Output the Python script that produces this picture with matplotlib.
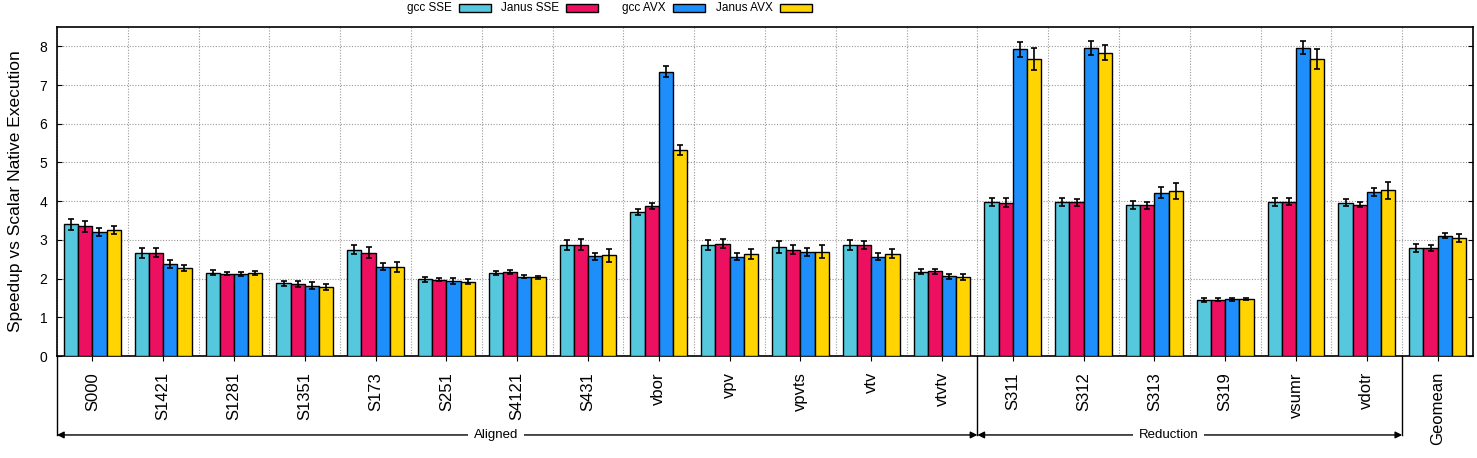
import numpy as np
import matplotlib
matplotlib.use("Agg")
import matplotlib.pyplot as plt
from matplotlib import font_manager
from matplotlib.patches import Rectangle
from matplotlib.transforms import blended_transform_factory

plt.rcParams['font.family'] = ['Liberation Sans', 'DejaVu Sans']

# horizontal text in the reference looks condensed; use the narrow face if present
installed = {f.name for f in font_manager.fontManager.ttflist}
if 'Liberation Sans Narrow' in installed:
    hfont, hsize = ['Liberation Sans Narrow', 'DejaVu Sans'], 10
else:
    hfont, hsize = ['Liberation Sans', 'DejaVu Sans'], 8.5

benchmarks = ["S000", "S1421", "S1281", "S1351", "S173", "S251", "S4121", "S431",
              "vbor", "vpv", "vpvts", "vtv", "vtvtv",
              "S311", "S312", "S313", "S319", "vsumr", "vdotr", "Geomean"]

gcc_sse = [3.40, 2.65, 2.15, 1.88, 2.75, 1.98, 2.15, 2.87, 3.72, 2.87, 2.82, 2.87, 2.18,
           3.98, 3.98, 3.91, 1.44, 3.98, 3.96, 2.79]
janus_sse = [3.35, 2.67, 2.13, 1.87, 2.67, 1.97, 2.17, 2.88, 3.87, 2.90, 2.75, 2.87, 2.19,
             3.96, 3.97, 3.90, 1.45, 3.98, 3.91, 2.79]
gcc_avx = [3.20, 2.38, 2.12, 1.82, 2.30, 1.94, 2.05, 2.58, 7.35, 2.57, 2.69, 2.57, 2.06,
           7.92, 7.95, 4.22, 1.47, 7.97, 4.24, 3.11]
janus_avx = [3.25, 2.27, 2.14, 1.78, 2.30, 1.92, 2.03, 2.60, 5.32, 2.64, 2.69, 2.64, 2.05,
             7.67, 7.84, 4.26, 1.47, 7.68, 4.28, 3.05]

err_gcc_sse = [0.14, 0.13, 0.06, 0.07, 0.12, 0.06, 0.05, 0.13, 0.09, 0.12, 0.15, 0.13, 0.07,
               0.11, 0.10, 0.10, 0.05, 0.10, 0.09, 0.10]
err_janus_sse = [0.15, 0.11, 0.05, 0.08, 0.15, 0.04, 0.06, 0.14, 0.08, 0.11, 0.11, 0.10, 0.07,
                 0.11, 0.09, 0.09, 0.04, 0.09, 0.07, 0.09]
err_gcc_avx = [0.10, 0.11, 0.06, 0.08, 0.09, 0.07, 0.03, 0.09, 0.15, 0.08, 0.10, 0.08, 0.07,
               0.20, 0.18, 0.14, 0.04, 0.17, 0.10, 0.07]
err_janus_avx = [0.10, 0.08, 0.05, 0.07, 0.13, 0.06, 0.03, 0.16, 0.12, 0.13, 0.17, 0.12, 0.08,
                 0.28, 0.20, 0.20, 0.03, 0.26, 0.22, 0.10]

series = [("gcc SSE", gcc_sse, err_gcc_sse, "#55C8DE"),
          ("Janus SSE", janus_sse, err_janus_sse, "#EE1060"),
          ("gcc AVX", gcc_avx, err_gcc_avx, "#1E8EFA"),
          ("Janus AVX", janus_avx, err_janus_avx, "#FFD400")]

W, H = 1477, 458
fig = plt.figure(figsize=(W / 100, H / 100), dpi=100)
ax = fig.add_axes([57 / W, 102 / H, 1416 / W, 329 / H])

x = np.arange(len(benchmarks))
width = 0.2
for i, (name, vals, errs, col) in enumerate(series):
    ax.bar(x + (i - 1.5) * width, vals, width, color=col, edgecolor="black",
           linewidth=1.0, label=name, zorder=3,
           yerr=errs, error_kw=dict(ecolor="black", elinewidth=1.2, capsize=2.5,
                                    capthick=1.2, zorder=4))

ax.set_xlim(-0.5, len(benchmarks) - 0.5)
ax.set_ylim(0, 8.5)
ax.set_yticks(range(0, 9))
ax.set_yticklabels([str(v) for v in range(0, 9)], family=hfont, fontsize=hsize + 1.5)
ax.set_xticks(x)
ax.set_xticklabels(benchmarks, rotation=90, fontsize=12)
ax.set_xticks(np.arange(-0.5, len(benchmarks), 1.0), minor=True)
ax.tick_params(axis="x", which="minor", length=0)
ax.tick_params(axis="x", which="major", direction="out", length=3.6, pad=8)
ax.tick_params(axis="y", direction="in", right=True, length=3.5, pad=7)
ax.grid(axis="y", which="major", linestyle=(0, (1, 1.5)), color="#999999", linewidth=0.8, zorder=0)
ax.grid(axis="x", which="minor", linestyle=(0, (1, 1.5)), color="#999999", linewidth=0.8, zorder=0)
for s in ax.spines.values():
    s.set_linewidth(1.2)
ax.set_ylabel("Speedup vs Scalar Native Execution", fontsize=12.5, labelpad=12)

# group brackets under the axis
trans = blended_transform_factory(ax.transData, ax.transAxes)
arrow_y = -0.24
for xs in [-0.5, 12.5, 18.5]:
    ax.plot([xs, xs], [0, arrow_y], transform=trans, color="black",
            linewidth=1.0, clip_on=False)
groups = [("Aligned", -0.5, 12.5, 5.7), ("Reduction", 12.5, 18.5, 15.2)]
for label, x0, x1, xt in groups:
    ax.annotate("", xy=(x0, arrow_y), xytext=(x1, arrow_y), xycoords=trans,
                textcoords=trans,
                arrowprops=dict(arrowstyle="<|-|>", color="black", linewidth=1.0,
                                shrinkA=0, shrinkB=0, mutation_scale=10))
    ax.text(xt, arrow_y, label, transform=trans, ha="center", va="center",
            family=hfont, fontsize=hsize + 1,
            bbox=dict(facecolor="white", edgecolor="none", pad=4))

# legend: text right-aligned before each swatch, gnuplot style
for i, (name, vals, errs, col) in enumerate(series):
    sx = 459 + 107 * i
    fig.patches.append(Rectangle((sx / W, 1 - 12 / H), 32 / W, 8 / H,
                                 transform=fig.transFigure, facecolor=col,
                                 edgecolor="black", linewidth=1.0))
    fig.text((sx - 7) / W, 1 - 8 / H, name, ha="right", va="center",
             family=hfont, fontsize=hsize)

fig.savefig("out.png", dpi=100)
